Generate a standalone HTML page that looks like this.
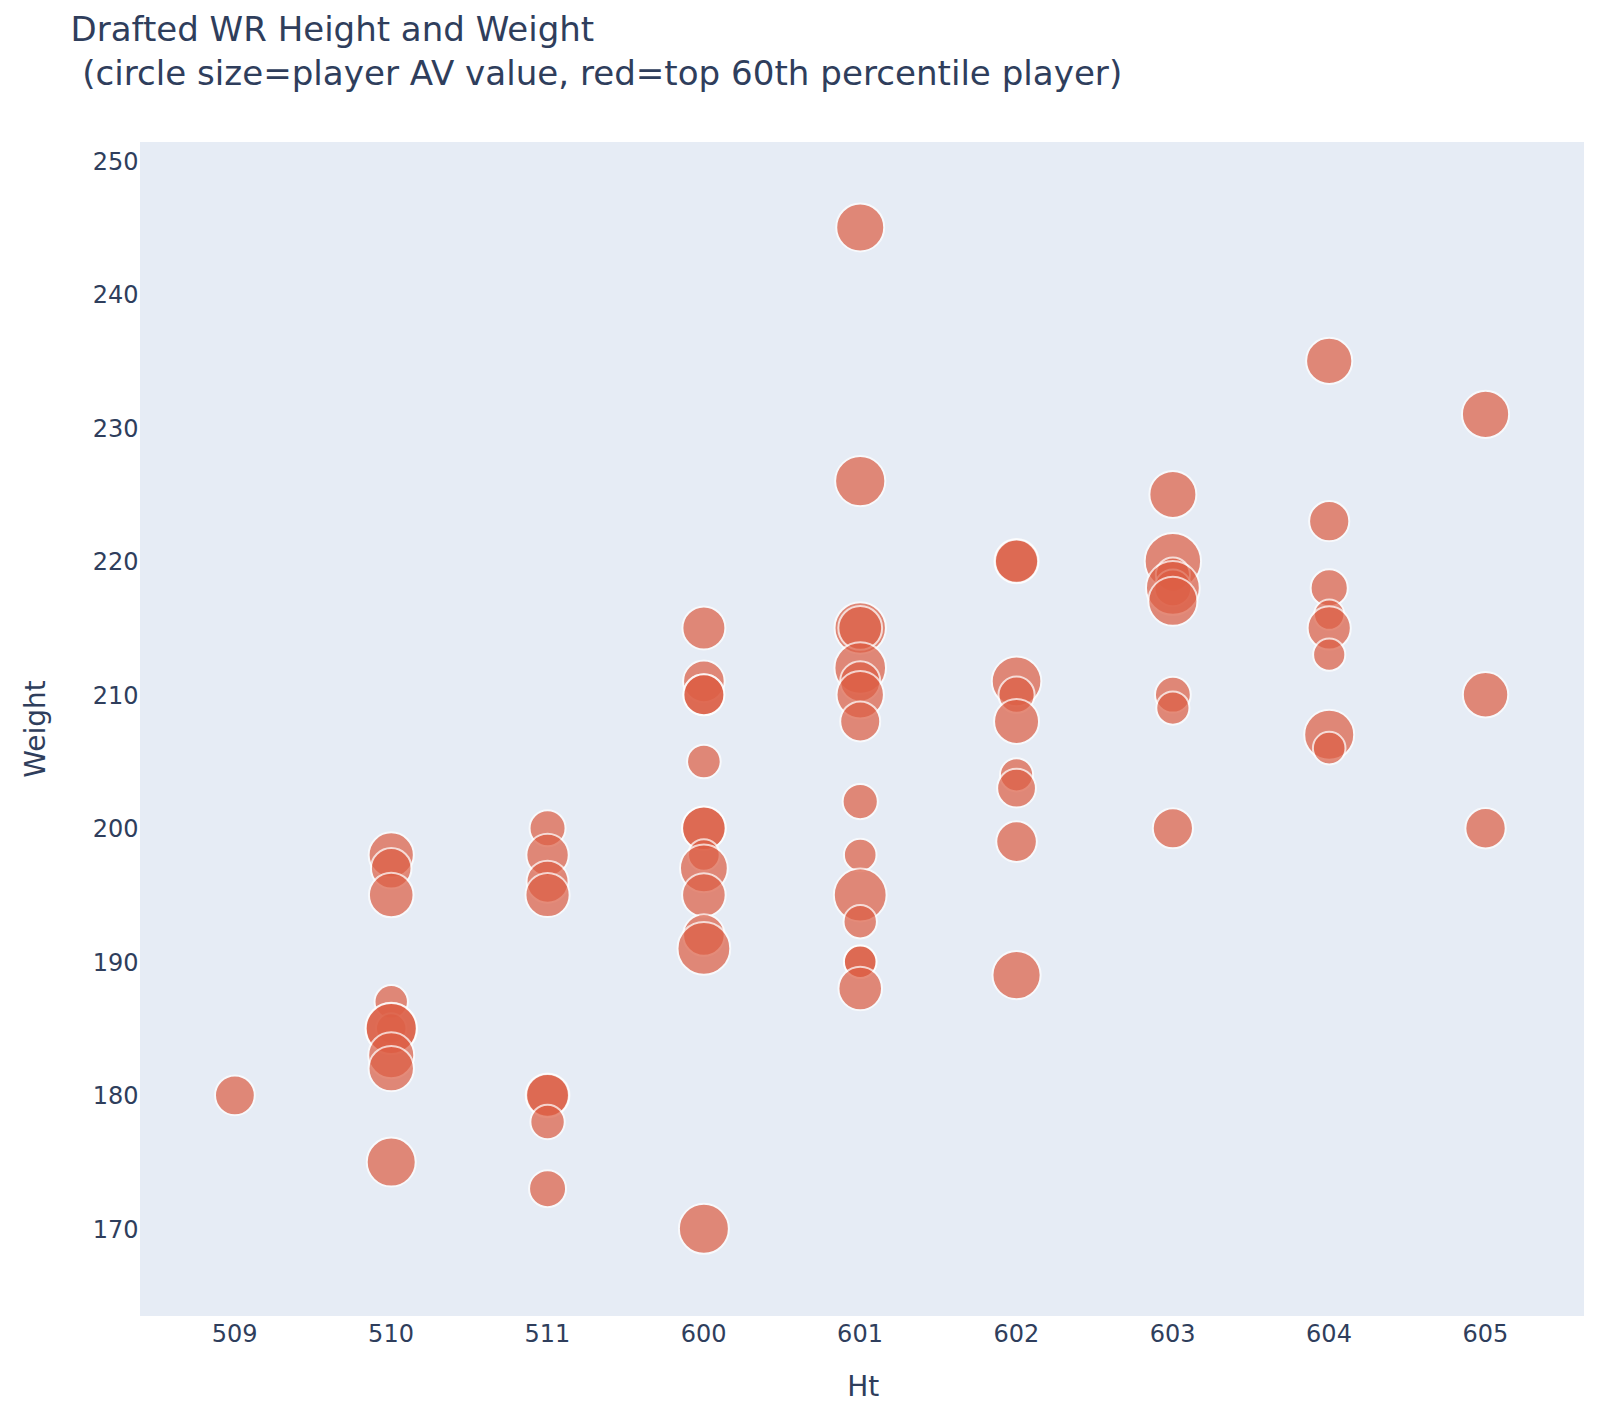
<!DOCTYPE html>
<html lang="en"><head><meta charset="utf-8"><title>Drafted WR Height and Weight</title>
<style>html,body{margin:0;padding:0;background:#fff;}svg{display:block;}text{font-family:"DejaVu Sans", "Liberation Sans", sans-serif;fill:#2f3e5c;}</style>
</head><body>
<svg width="1608" height="1408" viewBox="0 0 1608 1408">
<rect x="0" y="0" width="1608" height="1408" fill="#ffffff"/>
<rect x="140" y="142" width="1444" height="1174" fill="#e6ecf5"/>
<g fill="#dd5f45" stroke="#ffffff" stroke-width="2">
<circle cx="234.90" cy="1095.28" r="19.90" opacity="0.71"/>
<circle cx="391.23" cy="854.94" r="22.60" opacity="0.71"/>
<circle cx="391.23" cy="868.30" r="20.30" opacity="0.71"/>
<circle cx="391.23" cy="895.00" r="22.30" opacity="0.71"/>
<circle cx="391.23" cy="1001.82" r="16.70" opacity="0.71"/>
<circle cx="391.23" cy="1028.52" r="15.20" opacity="0.71"/>
<circle cx="391.23" cy="1028.52" r="25.80" opacity="0.71"/>
<circle cx="391.23" cy="1028.52" r="25.50" opacity="0.71"/>
<circle cx="391.23" cy="1055.22" r="23.00" opacity="0.71"/>
<circle cx="391.23" cy="1068.58" r="22.70" opacity="0.71"/>
<circle cx="391.23" cy="1162.04" r="24.50" opacity="0.71"/>
<circle cx="547.56" cy="828.24" r="18.00" opacity="0.71"/>
<circle cx="547.56" cy="854.94" r="21.20" opacity="0.71"/>
<circle cx="547.56" cy="881.65" r="21.00" opacity="0.71"/>
<circle cx="547.56" cy="895.00" r="22.10" opacity="0.71"/>
<circle cx="547.56" cy="1095.28" r="21.90" opacity="0.71"/>
<circle cx="547.56" cy="1095.28" r="21.40" opacity="0.71"/>
<circle cx="547.56" cy="1121.98" r="17.20" opacity="0.71"/>
<circle cx="547.56" cy="1188.74" r="18.50" opacity="0.71"/>
<circle cx="703.89" cy="627.96" r="21.50" opacity="0.71"/>
<circle cx="703.89" cy="681.37" r="20.80" opacity="0.71"/>
<circle cx="703.89" cy="694.72" r="20.50" opacity="0.71"/>
<circle cx="703.89" cy="694.72" r="20.50" opacity="0.71"/>
<circle cx="703.89" cy="761.48" r="16.80" opacity="0.71"/>
<circle cx="703.89" cy="828.24" r="21.80" opacity="0.71"/>
<circle cx="703.89" cy="828.24" r="21.80" opacity="0.71"/>
<circle cx="703.89" cy="854.94" r="15.80" opacity="0.71"/>
<circle cx="703.89" cy="868.30" r="23.90" opacity="0.71"/>
<circle cx="703.89" cy="895.00" r="21.80" opacity="0.71"/>
<circle cx="703.89" cy="935.06" r="20.80" opacity="0.71"/>
<circle cx="703.89" cy="948.41" r="26.40" opacity="0.71"/>
<circle cx="703.89" cy="1228.80" r="25.00" opacity="0.71"/>
<circle cx="860.22" cy="227.40" r="24.00" opacity="0.71"/>
<circle cx="860.22" cy="481.09" r="25.10" opacity="0.71"/>
<circle cx="860.22" cy="627.96" r="25.70" opacity="0.71"/>
<circle cx="860.22" cy="627.96" r="21.90" opacity="0.71"/>
<circle cx="860.22" cy="668.02" r="25.80" opacity="0.71"/>
<circle cx="860.22" cy="681.37" r="20.10" opacity="0.71"/>
<circle cx="860.22" cy="694.72" r="23.70" opacity="0.71"/>
<circle cx="860.22" cy="721.42" r="20.00" opacity="0.71"/>
<circle cx="860.22" cy="801.54" r="17.60" opacity="0.71"/>
<circle cx="860.22" cy="854.94" r="16.30" opacity="0.71"/>
<circle cx="860.22" cy="895.00" r="26.40" opacity="0.71"/>
<circle cx="860.22" cy="921.70" r="16.70" opacity="0.71"/>
<circle cx="860.22" cy="961.76" r="16.30" opacity="0.71"/>
<circle cx="860.22" cy="961.76" r="16.30" opacity="0.71"/>
<circle cx="860.22" cy="988.46" r="21.80" opacity="0.71"/>
<circle cx="1016.55" cy="561.20" r="22.10" opacity="0.71"/>
<circle cx="1016.55" cy="561.20" r="21.60" opacity="0.71"/>
<circle cx="1016.55" cy="681.37" r="24.80" opacity="0.71"/>
<circle cx="1016.55" cy="694.72" r="18.10" opacity="0.71"/>
<circle cx="1016.55" cy="721.42" r="22.50" opacity="0.71"/>
<circle cx="1016.55" cy="774.83" r="16.60" opacity="0.71"/>
<circle cx="1016.55" cy="788.18" r="19.40" opacity="0.71"/>
<circle cx="1016.55" cy="841.59" r="20.30" opacity="0.71"/>
<circle cx="1016.55" cy="975.11" r="24.10" opacity="0.71"/>
<circle cx="1172.88" cy="494.44" r="23.50" opacity="0.71"/>
<circle cx="1172.88" cy="561.20" r="28.20" opacity="0.71"/>
<circle cx="1172.88" cy="574.55" r="17.10" opacity="0.71"/>
<circle cx="1172.88" cy="587.90" r="18.40" opacity="0.71"/>
<circle cx="1172.88" cy="587.90" r="26.90" opacity="0.71"/>
<circle cx="1172.88" cy="601.26" r="24.60" opacity="0.71"/>
<circle cx="1172.88" cy="694.72" r="17.90" opacity="0.71"/>
<circle cx="1172.88" cy="708.07" r="16.60" opacity="0.71"/>
<circle cx="1172.88" cy="828.24" r="20.10" opacity="0.71"/>
<circle cx="1329.21" cy="360.92" r="23.10" opacity="0.71"/>
<circle cx="1329.21" cy="521.14" r="20.10" opacity="0.71"/>
<circle cx="1329.21" cy="587.90" r="18.60" opacity="0.71"/>
<circle cx="1329.21" cy="614.61" r="15.20" opacity="0.71"/>
<circle cx="1329.21" cy="627.96" r="21.60" opacity="0.71"/>
<circle cx="1329.21" cy="654.66" r="16.10" opacity="0.71"/>
<circle cx="1329.21" cy="734.78" r="25.00" opacity="0.71"/>
<circle cx="1329.21" cy="748.13" r="16.30" opacity="0.71"/>
<circle cx="1485.54" cy="414.33" r="23.60" opacity="0.71"/>
<circle cx="1485.54" cy="694.72" r="22.70" opacity="0.71"/>
<circle cx="1485.54" cy="828.24" r="20.20" opacity="0.71"/>
</g>
<text x="70.6" y="41.2" font-size="34" textLength="523.5" lengthAdjust="spacingAndGlyphs">Drafted WR Height and Weight</text>
<text x="82.2" y="85.2" font-size="34" textLength="1040" lengthAdjust="spacingAndGlyphs">(circle size=player AV value, red=top 60th percentile player)</text>
<text x="138.6" y="1237.80" font-size="24" text-anchor="end">170</text>
<text x="138.6" y="1104.28" font-size="24" text-anchor="end">180</text>
<text x="138.6" y="970.76" font-size="24" text-anchor="end">190</text>
<text x="138.6" y="837.24" font-size="24" text-anchor="end">200</text>
<text x="138.6" y="703.72" font-size="24" text-anchor="end">210</text>
<text x="138.6" y="570.20" font-size="24" text-anchor="end">220</text>
<text x="138.6" y="436.68" font-size="24" text-anchor="end">230</text>
<text x="138.6" y="303.16" font-size="24" text-anchor="end">240</text>
<text x="138.6" y="169.64" font-size="24" text-anchor="end">250</text>
<text x="234.70" y="1342.1" font-size="24" text-anchor="middle">509</text>
<text x="391.03" y="1342.1" font-size="24" text-anchor="middle">510</text>
<text x="547.36" y="1342.1" font-size="24" text-anchor="middle">511</text>
<text x="703.69" y="1342.1" font-size="24" text-anchor="middle">600</text>
<text x="860.02" y="1342.1" font-size="24" text-anchor="middle">601</text>
<text x="1016.35" y="1342.1" font-size="24" text-anchor="middle">602</text>
<text x="1172.68" y="1342.1" font-size="24" text-anchor="middle">603</text>
<text x="1329.01" y="1342.1" font-size="24" text-anchor="middle">604</text>
<text x="1485.34" y="1342.1" font-size="24" text-anchor="middle">605</text>
<text x="863.3" y="1395.6" font-size="28" text-anchor="middle">Ht</text>
<text transform="translate(44.5,729) rotate(-90)" font-size="28" text-anchor="middle">Weight</text>
</svg></body></html>
